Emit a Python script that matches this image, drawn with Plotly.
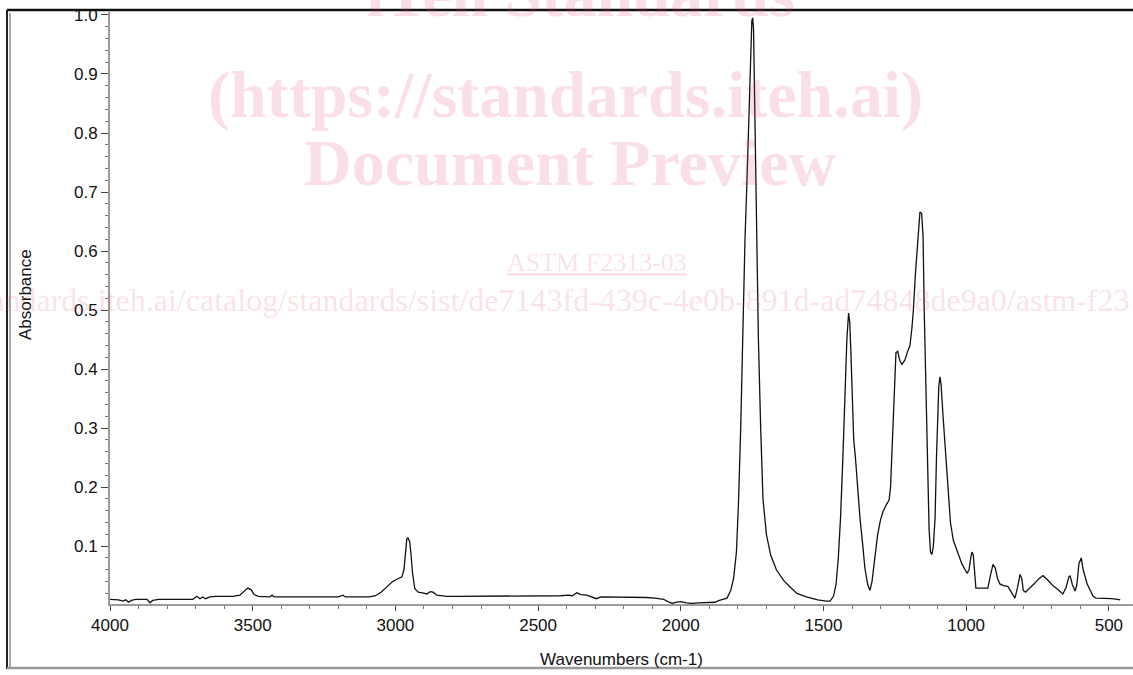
import plotly.graph_objects as go

# Wavenumbers (cm-1) and absorbance values
wavenumber = [
    4000, 3985, 3970, 3955, 3945, 3935, 3925, 3910, 3890, 3870, 3860, 3850, 3830, 3800,
    3770, 3740, 3710, 3695, 3685, 3675, 3665, 3650, 3630, 3600, 3570, 3545, 3530, 3517,
    3505, 3495, 3480, 3460, 3440, 3432, 3425, 3400, 3350, 3300, 3250, 3200, 3184, 3175,
    3150, 3120, 3090, 3070, 3050, 3030, 3010, 2995, 2985, 2977, 2970, 2965, 2960, 2956,
    2950, 2945, 2940, 2932, 2920, 2905, 2890, 2878, 2868, 2855, 2840, 2820, 2790, 2750,
    2700, 2650, 2600, 2550, 2500, 2460, 2420, 2395, 2380, 2364, 2350, 2330, 2305, 2295,
    2280, 2250, 2200, 2160, 2120, 2090, 2060, 2045, 2030, 2015, 2000, 1980, 1960, 1940,
    1920, 1900, 1880, 1865, 1850, 1838, 1825, 1815, 1805, 1798, 1790, 1782, 1775, 1768,
    1762, 1755, 1751, 1748, 1745, 1741, 1737, 1733, 1728, 1720, 1712, 1700, 1685, 1665,
    1640, 1615, 1593, 1560, 1520, 1490, 1477, 1465, 1456, 1448, 1440, 1432, 1425, 1418,
    1412, 1408, 1404, 1400, 1394, 1388, 1382, 1372, 1362, 1355, 1345, 1337, 1330, 1320,
    1310, 1300, 1291, 1280, 1270, 1265, 1260, 1255, 1250, 1246, 1240, 1233, 1225, 1215,
    1205, 1197, 1190, 1185, 1178, 1172, 1167, 1162, 1156, 1151, 1147, 1143, 1137, 1130,
    1125, 1120, 1115, 1109, 1104, 1100, 1096, 1092, 1088, 1081, 1074, 1067, 1060, 1055,
    1045, 1032, 1015, 997, 990, 984, 980, 975, 970, 966, 945, 924, 915, 906, 898, 890,
    882, 870, 854, 840, 829, 820, 811, 805, 800, 792, 776, 760, 745, 731, 715, 700, 680,
    661, 650, 640, 636, 628, 618, 612, 605, 597, 590, 576, 565, 555, 545, 531, 510, 490,
    470, 460,
]
absorbance = [
    0.010, 0.010, 0.009, 0.007, 0.009, 0.005, 0.008, 0.010, 0.010, 0.010, 0.004, 0.008, 0.010, 0.010,
    0.010, 0.010, 0.010, 0.015, 0.011, 0.014, 0.011, 0.014, 0.015, 0.015, 0.015, 0.017, 0.023, 0.029,
    0.026, 0.018, 0.015, 0.014, 0.014, 0.017, 0.014, 0.014, 0.014, 0.014, 0.014, 0.014, 0.017, 0.014,
    0.014, 0.014, 0.014, 0.016, 0.022, 0.031, 0.040, 0.044, 0.046, 0.048, 0.060, 0.090, 0.112, 0.114,
    0.108, 0.085, 0.055, 0.028, 0.022, 0.021, 0.019, 0.023, 0.022, 0.017, 0.016, 0.015, 0.015, 0.015,
    0.015, 0.015, 0.015, 0.015, 0.016, 0.015, 0.016, 0.017, 0.016, 0.021, 0.018, 0.017, 0.013, 0.011,
    0.014, 0.014, 0.014, 0.014, 0.013, 0.012, 0.010, 0.006, 0.003, 0.005, 0.006, 0.004, 0.003, 0.004,
    0.004, 0.004, 0.005, 0.008, 0.010, 0.012, 0.025, 0.045, 0.090, 0.170, 0.300, 0.500, 0.620, 0.720,
    0.820, 0.930, 0.990, 0.995, 0.975, 0.850, 0.720, 0.600, 0.450, 0.300, 0.180, 0.120, 0.085, 0.060,
    0.042, 0.030, 0.020, 0.014, 0.009, 0.007, 0.007, 0.015, 0.035, 0.080, 0.150, 0.250, 0.350, 0.450,
    0.495, 0.480, 0.430, 0.350, 0.280, 0.250, 0.205, 0.147, 0.100, 0.063, 0.035, 0.025, 0.040, 0.080,
    0.120, 0.145, 0.159, 0.170, 0.178, 0.200, 0.260, 0.330, 0.400, 0.428, 0.430, 0.415, 0.408, 0.415,
    0.430, 0.440, 0.470, 0.500, 0.560, 0.600, 0.640, 0.666, 0.664, 0.625, 0.500, 0.400, 0.260, 0.130,
    0.090, 0.086, 0.100, 0.147, 0.250, 0.320, 0.370, 0.387, 0.375, 0.320, 0.270, 0.232, 0.170, 0.140,
    0.110, 0.092, 0.070, 0.054, 0.060, 0.080, 0.090, 0.085, 0.050, 0.029, 0.029, 0.029, 0.050, 0.069,
    0.063, 0.045, 0.036, 0.033, 0.032, 0.022, 0.012, 0.030, 0.052, 0.045, 0.025, 0.022, 0.029, 0.037,
    0.045, 0.050, 0.043, 0.035, 0.027, 0.019, 0.030, 0.048, 0.050, 0.035, 0.024, 0.035, 0.070, 0.080,
    0.060, 0.036, 0.025, 0.015, 0.012, 0.012, 0.011, 0.011, 0.010, 0.009,
]

x_ticks = [4000, 3500, 3000, 2500, 2000, 1500, 1000, 500]
y_ticks = [0.1, 0.2, 0.3, 0.4, 0.5, 0.6, 0.7, 0.8, 0.9, 1.0]
x_title = "Wavenumbers (cm-1)"
y_title = "Absorbance"

watermark_lines = [
    "iTeh Standards",
    "(https://standards.iteh.ai)",
    "Document Preview",
]
watermark_small = "<u>ASTM F2313-03</u>"
watermark_url = "https://standards.iteh.ai/catalog/standards/sist/de7143fd-439c-4e0b-891d-ad74848de9a0/astm-f2313-03"

W, H = 1133, 675
L, R, T, B = 110, 0, 12, 71
pw, ph = W - L - R, H - T - B


def px(xp):
    return (xp - L) / pw


def py(yp):
    return (H - B - yp) / ph


fig = go.Figure()
fig.add_trace(go.Scatter(
    x=wavenumber, y=absorbance, mode="lines",
    line=dict(color="#111111", width=1.3),
    hoverinfo="skip", showlegend=False,
))

font = dict(family="Liberation Sans, Arial, sans-serif", size=17, color="#111111")

fig.update_layout(
    width=W, height=H,
    margin=dict(l=L, r=R, t=T, b=B),
    paper_bgcolor="white", plot_bgcolor="white",
    font=font,
    xaxis=dict(
        range=[4000, 4000 - pw * 3.504], tickvals=x_ticks, ticktext=[str(v) for v in x_ticks],
        showgrid=False, zeroline=False, showline=True, linecolor="#9a9a9a", linewidth=2,
        ticks="outside", ticklen=5, tickcolor="#444", tickwidth=1,
        minor=dict(dtick=100, ticks="outside", ticklen=3, tickcolor="#777"),
        title=dict(text=x_title, standoff=19, font=dict(size=17)),
    ),
    yaxis=dict(
        range=[0.002, 1.005], tickvals=y_ticks, ticktext=["%.1f" % v for v in y_ticks],
        showgrid=False, zeroline=False, showline=True, linecolor="#9a9a9a", linewidth=2,
        ticks="outside", ticklen=7, tickcolor="#444", tickwidth=1,
        minor=dict(dtick=0.02, ticks="outside", ticklen=3, tickcolor="#777"),
    ),
)

# Y axis title placed as rotated annotation to match the reference position
fig.add_annotation(text=y_title, xref="paper", yref="paper", x=px(25), y=py(295),
                   xanchor="center", yanchor="middle", showarrow=False, textangle=-90,
                   font=dict(size=17, color="#111111"))

# Window / frame lines
fig.add_shape(type="line", xref="paper", yref="paper", x0=px(7), x1=1.0, y0=py(10), y1=py(10),
              line=dict(color="#111", width=2.5))
fig.add_shape(type="line", xref="paper", yref="paper", x0=px(7), x1=px(7), y0=py(10), y1=py(669),
              line=dict(color="#222", width=2))
fig.add_shape(type="line", xref="paper", yref="paper", x0=px(10), x1=px(10), y0=py(13), y1=py(667),
              line=dict(color="#aaa", width=2))
fig.add_shape(type="line", xref="paper", yref="paper", x0=px(7), x1=1.0, y0=py(668), y1=py(668),
              line=dict(color="#999", width=2.5))

wm_color = "rgba(225, 70, 105, 0.17)"
wm_font = "Liberation Serif, Times New Roman, serif"
big_pos = [(580, -6), (565, 95), (570, 162)]
for txt, (xp, yp) in zip(watermark_lines, big_pos):
    fig.add_annotation(text="<b>%s</b>" % txt, xref="paper", yref="paper", x=px(xp), y=py(yp),
                       xanchor="center", yanchor="middle", showarrow=False,
                       font=dict(family=wm_font, size=66, color=wm_color))
fig.add_annotation(text=watermark_small, xref="paper", yref="paper", x=px(597), y=py(262),
                   xanchor="center", yanchor="middle", showarrow=False,
                   font=dict(family=wm_font, size=26, color=wm_color))
fig.add_annotation(text=watermark_url, xref="paper", yref="paper", x=px(-122), y=py(300),
                   xanchor="left", yanchor="middle", showarrow=False,
                   font=dict(family=wm_font, size=32, color=wm_color))

fig.write_html("out.html", config={"displayModeBar": False},
               post_script="document.body.style.margin='0';")
